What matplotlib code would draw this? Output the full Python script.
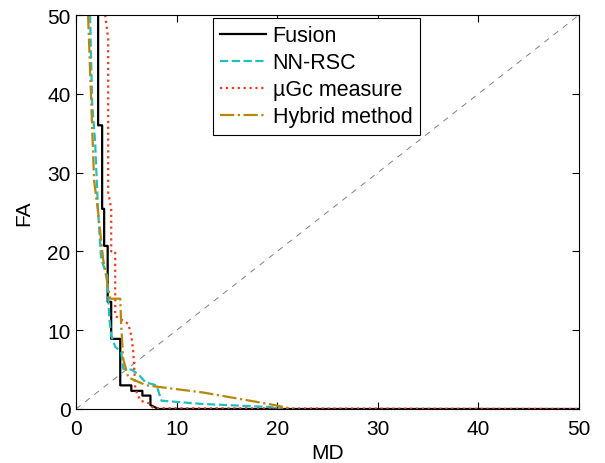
import numpy as np
import matplotlib.pyplot as plt

plt.rcParams['font.family'] = ['Liberation Sans', 'DejaVu Sans']

# curve values (MD, FA)
fusion_md = [2.2, 2.2, 2.6, 2.6, 2.8, 2.8, 3.15, 3.15, 3.5, 3.5, 4.4, 4.4, 5.5, 5.5, 6.6, 6.6, 7.4, 7.4, 8.2, 50]
fusion_fa = [50, 36, 36, 25.4, 25.4, 20.7, 20.7, 13.6, 13.6, 8.9, 8.9, 3.0, 3.0, 2.3, 2.3, 1.7, 1.7, 0.5, 0, 0]

nnrsc_md = [1.4, 1.6, 1.9, 2.2, 2.5, 3.1, 3.3, 3.5, 3.9, 4.5, 4.7, 5.5, 6.2, 6.9, 8.0, 8.5, 12.7, 19.3, 20.6]
nnrsc_fa = [50, 39, 33.9, 25, 19, 16.9, 11.8, 9.3, 7.9, 7.2, 5.1, 5.0, 4.4, 3.4, 3.0, 1.05, 0.63, 0.25, 0]

ugc_md = [2.9, 3.2, 3.2, 3.5, 3.5, 3.9, 3.9, 4.7, 5.2, 5.5, 5.7, 5.9, 6.4, 7.2, 7.7, 50]
ugc_fa = [50, 47, 27.5, 25.5, 20, 20, 11.8, 11.2, 10.8, 9.3, 7.2, 2.5, 1.05, 0.76, 0.1, 0]

hybrid_md = [1.2, 1.8, 2.2, 2.7, 3.4, 4.4, 4.5, 4.7, 5.2, 7.0, 12.6, 19.3, 21.6]
hybrid_fa = [50, 29, 25, 19, 14, 14, 10.4, 6.3, 4.0, 3.0, 2.1, 0.6, 0]

fig = plt.figure(figsize=(6.05, 4.64), dpi=100)
ax = fig.add_axes([0.1256, 0.1164, 0.8314, 0.8491])

ax.plot([0, 50], [0, 50], '--', color='gray', lw=0.7, dashes=(6, 6))
ax.plot(fusion_md, fusion_fa, '-', color='black', lw=1.6, label='Fusion')
ax.plot(nnrsc_md, nnrsc_fa, '--', color='#20c0c0', lw=1.6, label='NN-RSC')
ax.plot(ugc_md, ugc_fa, ':', color='#f03a1a', lw=1.6, label='\u00b5Gc measure')
ax.plot(hybrid_md, hybrid_fa, '-.', color='#b8860b', lw=1.6, label='Hybrid method')

ax.set_xlim(0, 50)
ax.set_ylim(0, 50)
ax.set_xticks(np.arange(0, 51, 10))
ax.set_yticks(np.arange(0, 51, 10))
ax.tick_params(direction='in', top=True, right=True, labelsize=15, length=5)
ax.tick_params(axis='x', pad=7)
ax.tick_params(axis='y', pad=4)
ax.set_xlabel('MD', fontsize=15, labelpad=4)
ax.set_ylabel('FA', fontsize=15, labelpad=10)

leg = ax.legend(loc='upper left', bbox_to_anchor=(0.272, 0.993), fontsize=15.5,
                fancybox=False, framealpha=1, edgecolor='black',
                handlelength=2.1, borderpad=0.35, labelspacing=0.28,
                handletextpad=0.33, borderaxespad=0)
leg.get_frame().set_linewidth(0.8)

plt.savefig('out.png', dpi=100)
